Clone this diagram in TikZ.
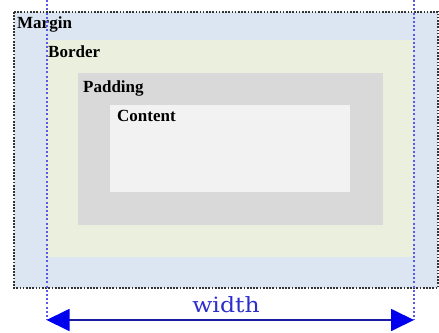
\documentclass[tikz,border=0pt]{standalone}
\usepackage{fontspec}
\setmainfont{Liberation Serif}
\newfontfamily\widthfont{DejaVu Serif}
\usetikzlibrary{arrows.meta}

\definecolor{marginblue}{HTML}{DCE6F2}
\definecolor{bordergreen}{HTML}{EBF0DE}
\definecolor{paddinggray}{HTML}{D9D9D9}
\definecolor{contentgray}{HTML}{F2F2F2}
\definecolor{guideblue}{HTML}{5a5ae6}
\definecolor{arrowblue}{HTML}{0000EE}
\definecolor{shaftblue}{HTML}{1C1CA0}
\definecolor{labelblue}{HTML}{2E2ECC}

\begin{document}
\begin{tikzpicture}[x=1pt,y=-1pt,
  boxlabel/.style={anchor=base west, inner sep=0pt,
    font=\bfseries\fontsize{17}{17}\selectfont},
  edgedots/.style={draw=black!80, line width=1.9pt, dash pattern=on 1.7pt off 1.5pt},
  guide/.style={draw=guideblue, line width=2pt, dash pattern=on 2pt off 2.2pt},
  dimline/.style={draw=shaftblue, line width=1.8pt, {Triangle[length=23pt, width=22pt, color=arrowblue]}-{Triangle[length=23pt, width=22pt, color=arrowblue]}},
]
\useasboundingbox (0,0) rectangle (439,332);

% nested boxes: margin, border, padding, content
\fill[marginblue]  (14,12)  rectangle (438,288);
\fill[bordergreen] (47,40)  rectangle (413,257);
\fill[paddinggray] (78,73)  rectangle (383,225);
\fill[contentgray] (110,105) rectangle (350,192);

% dotted outer edge of the margin
\draw[edgedots] (14,12) rectangle (438,288);

% labels of the four areas
\node[boxlabel] (lmargin)  at (17,28)   {Margin};
\node[boxlabel] (lborder)  at (48,57)   {Border};
\node[boxlabel] (lpadding) at (83,92)   {Padding};
\node[boxlabel] (lcontent) at (117,121) {Content};

% dimension line for the width
\coordinate (gl top) at (46.5,0);
\coordinate (gr top) at (414,0);
\coordinate (aL) at (46.5,320);
\coordinate (aR) at (414,320);
\draw[guide] (gl top) -- (aL);
\draw[guide] (gr top) -- (aR);
\draw[dimline] (aL) -- (aR);
\node[anchor=base, inner sep=0pt, text=labelblue] (lwidth) at (226,312)
  {\widthfont\fontsize{21}{21}\selectfont\scalebox{1.12}[1]{width}};
\end{tikzpicture}
\end{document}
